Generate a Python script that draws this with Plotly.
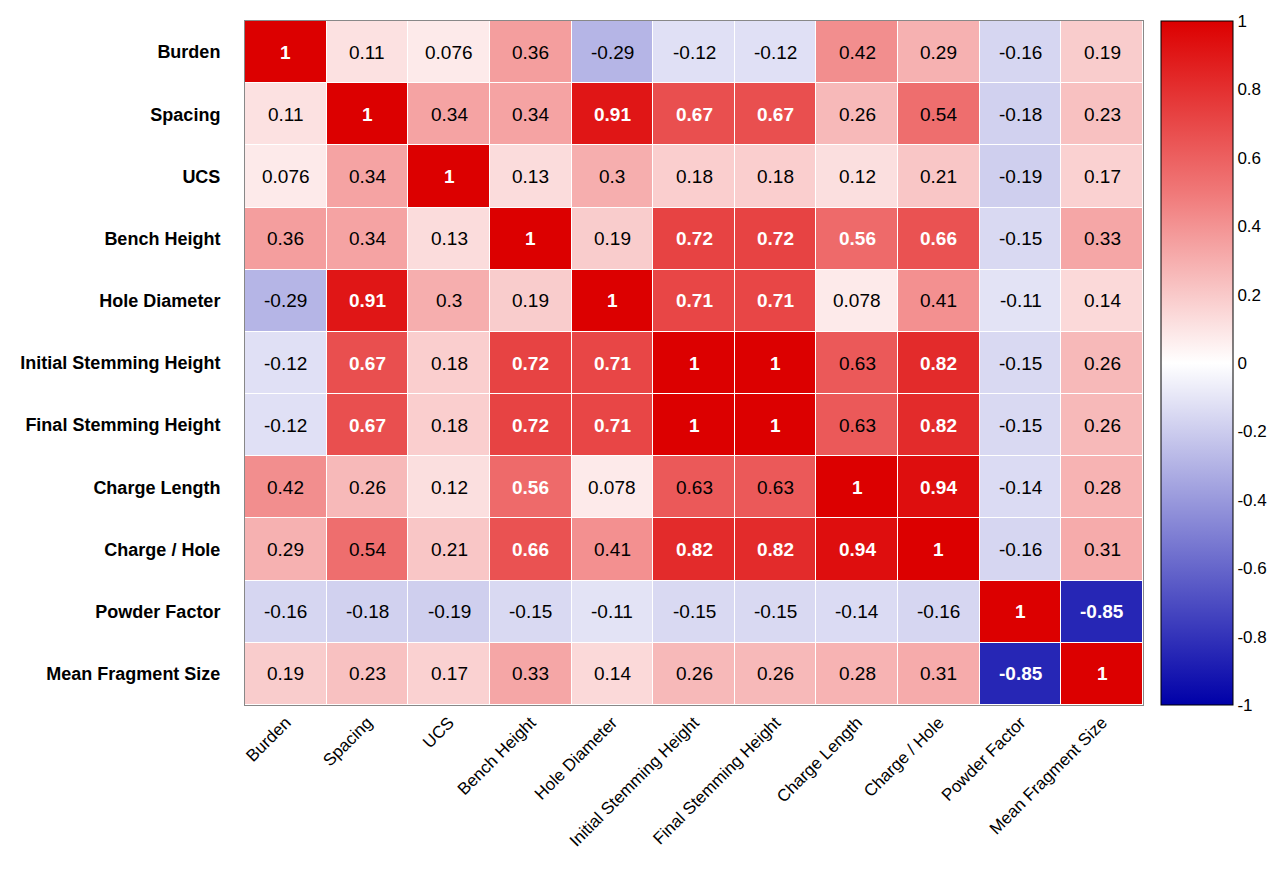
import plotly.graph_objects as go

labels = ["Burden","Spacing","UCS","Bench Height","Hole Diameter","Initial Stemming Height",
          "Final Stemming Height","Charge Length","Charge / Hole","Powder Factor","Mean Fragment Size"]
z = [
 [1,.11,.076,.36,-.29,-.12,-.12,.42,.29,-.16,.19],
 [.11,1,.34,.34,.91,.67,.67,.26,.54,-.18,.23],
 [.076,.34,1,.13,.3,.18,.18,.12,.21,-.19,.17],
 [.36,.34,.13,1,.19,.72,.72,.56,.66,-.15,.33],
 [-.29,.91,.3,.19,1,.71,.71,.078,.41,-.11,.14],
 [-.12,.67,.18,.72,.71,1,1,.63,.82,-.15,.26],
 [-.12,.67,.18,.72,.71,1,1,.63,.82,-.15,.26],
 [.42,.26,.12,.56,.078,.63,.63,1,.94,-.14,.28],
 [.29,.54,.21,.66,.41,.82,.82,.94,1,-.16,.31],
 [-.16,-.18,-.19,-.15,-.11,-.15,-.15,-.14,-.16,1,-.85],
 [.19,.23,.17,.33,.14,.26,.26,.28,.31,-.85,1],
]

fig = go.Figure(go.Heatmap(
    z=z, x=labels, y=labels, zmin=-1, zmax=1, xgap=1, ygap=1,
    colorscale=[[0,"#0000a8"],[0.5,"#ffffff"],[0.75,"#f07878"],[1,"#dc0000"]],
    colorbar=dict(x=1.009, xanchor="left", y=0.5, len=1.0, lenmode="fraction", ypad=0,
                  thickness=72, outlinecolor="black", outlinewidth=1,
                  tickvals=[-1,-0.8,-0.6,-0.4,-0.2,0,0.2,0.4,0.6,0.8,1],
                  ticktext=["-1","-0.8","-0.6","-0.4","-0.2","0","0.2","0.4","0.6","0.8","1"],
                  ticks="", tickfont=dict(size=17, color="black")),
    hoverinfo="skip"))

for i, row in enumerate(z):
    for j, v in enumerate(row):
        white = v > 0.64 or v == 0.56 or v < -0.5
        fig.add_annotation(x=labels[j], y=labels[i], text=f"{v:g}", showarrow=False,
                           font=dict(size=19, weight="bold" if white else "normal",
                                     color="white" if white else "black"))

fig.update_layout(
    width=1277, height=874, margin=dict(l=228, r=127, t=12, b=177),
    paper_bgcolor="white", plot_bgcolor="white",
    font=dict(family="Liberation Sans, Arial", color="black"),
    xaxis=dict(tickangle=-45, tickfont=dict(size=17), showgrid=False, ticks="", mirror=True,
               showline=True, linecolor="#888"),
    yaxis=dict(autorange="reversed", tickfont=dict(size=18, weight="bold"), showgrid=False, ticks="",
               mirror=True, showline=True, linecolor="#888", ticksuffix="    "),
)
fig.write_html("out.html")
